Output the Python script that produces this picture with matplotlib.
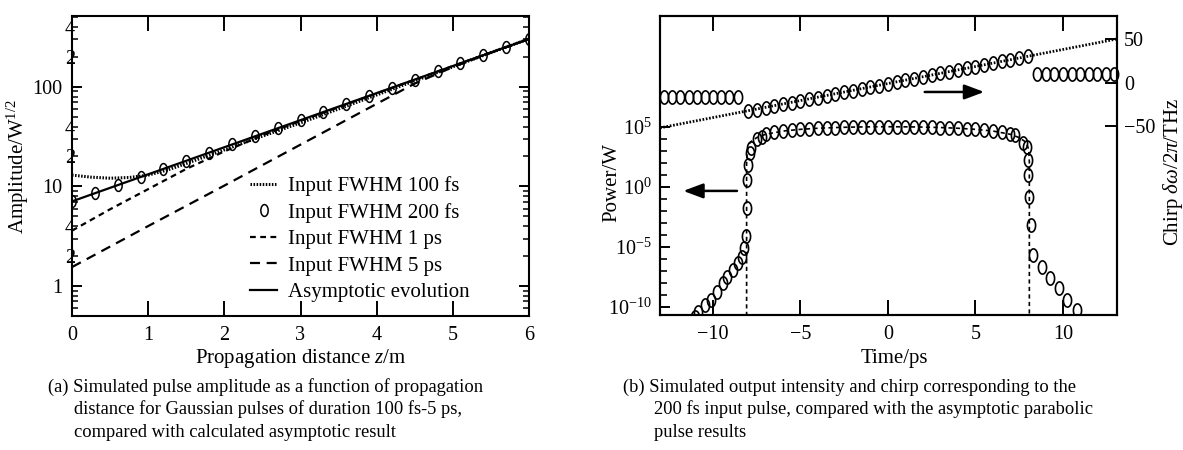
import numpy as np
import matplotlib
matplotlib.use("Agg")
import matplotlib.pyplot as plt
from matplotlib.path import Path
from matplotlib.ticker import FixedLocator, FuncFormatter, NullFormatter, NullLocator

plt.rcParams.update({
    "font.family": ["Liberation Serif", "DejaVu Serif"],
    "mathtext.fontset": "custom",
    "mathtext.rm": "Liberation Serif",
    "mathtext.it": "Liberation Serif:style=italic",
    "mathtext.bf": "Liberation Serif:weight=bold",
    "axes.unicode_minus": True,
})

# ---------------- data: panel (a) ----------------
z_100fs = [0.0, 0.25, 0.5, 0.75, 1.0, 1.25, 1.5, 2.0, 2.5, 3.0, 3.5, 4.0, 4.5, 5.0, 5.5, 6.0]
A_100fs = [13.0, 12.4, 12.1, 12.3, 13.0, 14.6, 17.0, 23.3, 32.0, 43.5, 60.0, 83.0, 115.0, 159.0, 221.0, 303.0]

z_200fs = [0.0, 0.3, 0.6, 0.9, 1.2, 1.5, 1.8, 2.1, 2.4, 2.7, 3.0, 3.3, 3.6, 3.9, 4.2, 4.5, 4.8, 5.1, 5.4, 5.7, 6.0]
A_200fs = [7.2, 8.5, 10.3, 12.4, 15.0, 18.1, 21.9, 26.4, 31.8, 38.4, 46.4, 55.9, 67.5, 81.4, 98.2, 118.6, 143.0, 173.0, 208.0, 251.0, 303.0]

z_1ps = [0.0, 0.5, 1.0, 1.5, 2.0, 2.5, 3.0, 3.5, 4.0, 4.5, 5.0, 5.5, 6.0]
A_1ps = [3.6, 5.9, 9.4, 15.0, 22.5, 32.5, 45.5, 62.5, 86.0, 118.0, 162.0, 222.0, 303.0]

z_5ps = [0.0, 1.0, 2.0, 3.0, 4.0, 4.5, 5.0, 5.5, 6.0]
A_5ps = [1.55, 4.0, 10.2, 26.3, 67.6, 108.0, 158.0, 220.0, 303.0]

z_asym = [0.0, 6.0]
A_asym = [7.08, 303.0]

legend_labels = ["Input FWHM 100 fs", "Input FWHM 200 fs", "Input FWHM 1 ps",
                 "Input FWHM 5 ps", "Asymptotic evolution"]

# ---------------- data: panel (b) ----------------
# simulated output power (circles)
t_power = [-11.03, -10.86, -10.46, -10.13, -9.79, -9.45, -9.2, -8.87, -8.57, -8.36, -8.23,
           -8.11, -8.07, -8.06, -8.0, -7.89, -7.85, -7.46, -7.22,
           -7.0, -6.5, -6.0, -5.5, -5.0, -4.5, -4.0, -3.5, -3.0, -2.5, -2.0, -1.5, -1.0, -0.5,
           0.0, 0.5, 1.0, 1.5, 2.0, 2.5, 3.0, 3.5, 4.0, 4.5, 5.0, 5.5, 6.0, 6.5, 7.0,
           7.26, 7.73, 7.93, 8.02, 8.02, 8.07, 8.15, 8.30, 8.78, 9.26, 9.79, 10.25, 10.78]
P_power = [1.5e-11, 4e-11, 1.5e-10, 3.8e-10, 1.9e-9, 1e-8, 3.2e-8, 1.2e-7, 4.7e-7, 1.5e-6, 8.3e-6,
           8.3e-5, 1.8e-2, 3.8, 68.0, 7.2e2, 1.8e3, 1.0e4, 1.55e4,
           2.45e4, 3.56e4, 4.58e4, 5.52e4, 6.38e4, 7.16e4, 7.85e4, 8.47e4, 8.99e4, 9.44e4, 9.82e4, 1.01e5, 1.03e5, 1.04e5,
           1.05e5, 1.04e5, 1.03e5, 1.01e5, 9.82e4, 9.44e4, 8.99e4, 8.47e4, 7.85e4, 7.16e4, 6.38e4, 5.52e4, 4.58e4, 3.56e4, 2.45e4,
           2.1e4, 4.4e3, 2.3e3, 1.8e2, 10.0, 0.15, 6.8e-4, 2.1e-6, 2.3e-7, 2.5e-8, 3.6e-9, 3.8e-10, 5.6e-11]

# asymptotic parabolic power (dashed)
t_par = [-8.08, -8.08, -8.05, -8.0, -7.9, -7.8, -7.5, -7.0, -6.0, -5.0, -4.0, -3.0, -2.0, -1.0, 0.0,
         1.0, 2.0, 3.0, 4.0, 5.0, 6.0, 7.0, 7.5, 7.8, 7.9, 8.0, 8.05, 8.08, 8.08]
P_par = [1e-12, 1.3e2, 7.8e2, 2.1e3, 4.6e3, 6.6e3, 1.3e4, 2.45e4, 4.58e4, 6.38e4, 7.85e4, 8.99e4, 9.82e4, 1.03e5, 1.05e5,
         1.03e5, 9.82e4, 8.99e4, 7.85e4, 6.38e4, 4.58e4, 2.45e4, 1.3e4, 6.6e3, 4.6e3, 2.1e3, 7.8e2, 1.3e2, 1e-12]

# simulated chirp (circles)
t_chirp = [-12.8, -12.33, -11.86, -11.40, -10.93, -10.46, -9.99, -9.53, -9.06, -8.59,
           -8.0, -7.5, -7.0, -6.5, -6.0, -5.5, -5.0, -4.5, -4.0, -3.5, -3.0, -2.5, -2.0, -1.5, -1.0, -0.5,
           0.0, 0.5, 1.0, 1.5, 2.0, 2.5, 3.0, 3.5, 4.0, 4.5, 5.0, 5.5, 6.0, 6.5, 7.0, 7.5, 8.0,
           8.53, 9.02, 9.51, 10.0, 10.49, 10.98, 11.47, 11.96, 12.45, 12.94]
chirp = [-16, -16, -16, -16, -16, -16, -16, -16, -16, -16,
         -32.6, -30.6, -28.7, -26.7, -24.7, -22.7, -20.8, -18.8, -16.8, -14.8, -12.9, -10.9, -8.9, -6.9, -5.0, -3.0,
         -1.0, 1.0, 3.0, 4.9, 6.9, 8.9, 10.9, 12.8, 14.8, 16.8, 18.8, 20.7, 22.7, 24.7, 26.7, 28.6, 30.6,
         10, 10, 10, 10, 10, 10, 10, 10, 10, 10]

# asymptotic chirp (dotted)
t_chirp_asym = [-13.03, 13.09]
chirp_asym = [-51.7, 50.6]

caption_a = ["(a) Simulated pulse amplitude as a function of propagation",
             "distance for Gaussian pulses of duration 100 fs-5 ps,",
             "compared with calculated asymptotic result"]
caption_b = ["(b) Simulated output intensity and chirp corresponding to the",
             "200 fs input pulse, compared with the asymptotic parabolic",
             "pulse results"]

# ---------------- figure ----------------
W, H = 1183, 450
fig = plt.figure(figsize=(W / 100, H / 100), dpi=100)
fig.patch.set_facecolor("white")

def px_axes(x0, y0, x1, y1):
    return fig.add_axes([x0 / W, 1 - y1 / H, (x1 - x0) / W, (y1 - y0) / H])

# ellipse marker (taller than wide)
th = np.linspace(0, 2 * np.pi, 73)
ellipse = Path(np.column_stack([0.62 * np.cos(th), np.sin(th)]), closed=True)

TICK_FS = 14.5
LAB_FS = 15
SPINE_W = 1.5

# ---------------- panel (a) ----------------
axL = px_axes(72, 16, 529, 316)
axL.set_yscale("log")
axL.set_xlim(0, 6)
axL.set_ylim(0.5, 515)

axL.plot(z_100fs, A_100fs, color="black", lw=2.2, ls=(0, (0.5, 0.5)), label=legend_labels[0])
axL.plot(z_200fs, A_200fs, ls="none", marker=ellipse, ms=8.5, mfc="none", mec="black", mew=1.1,
         label=legend_labels[1])
axL.plot(z_1ps, A_1ps, color="black", lw=1.6, ls=(0, (2.6, 2.0)), label=legend_labels[2])
axL.plot(z_5ps, A_5ps, color="black", lw=1.6, ls=(0, (4.5, 3.0)), label=legend_labels[3])
axL.plot(z_asym, A_asym, color="black", lw=1.6, label=legend_labels[4])

axL.xaxis.set_major_locator(FixedLocator([0, 1, 2, 3, 4, 5, 6]))
axL.yaxis.set_major_locator(FixedLocator([1, 10, 100]))
axL.yaxis.set_major_formatter(FuncFormatter(lambda v, p: "%d" % round(v)))
minor_vals = [m * 10 ** e for e in (-1, 0, 1, 2) for m in range(2, 10)]
axL.yaxis.set_minor_locator(FixedLocator(minor_vals))

def minor_fmt(v, p):
    mant = v / 10 ** np.floor(np.log10(v) + 1e-9)
    if abs(mant - 2) < 1e-6 and v > 1:
        return "2"
    if abs(mant - 4) < 1e-6 and v > 1:
        return "4"
    return ""

axL.yaxis.set_minor_formatter(FuncFormatter(minor_fmt))
axL.tick_params(axis="x", which="major", direction="in", top=True, length=11, width=1.4,
                labelsize=TICK_FS, pad=7)
axL.tick_params(axis="y", which="major", direction="in", right=True, length=7, width=1.4,
                labelsize=TICK_FS, pad=7)
axL.tick_params(axis="y", which="minor", direction="in", right=True, length=4, width=1.1,
                labelsize=TICK_FS, pad=-2)
for s in axL.spines.values():
    s.set_linewidth(SPINE_W)

leg = axL.legend(loc="upper left", bbox_to_anchor=((250 - 72) / 457, (316 - 176) / 300),
                 frameon=False, fontsize=LAB_FS, borderpad=0, borderaxespad=0,
                 handlelength=1.3, handletextpad=0.5, labelspacing=0.33)

fig.text(18 / W, 1 - 167 / H, "Amplitude/W$^{1/2}$", rotation=90, ha="center", va="center",
         fontsize=LAB_FS)
fig.text(301 / W, 1 - 363 / H, "Propagation distance $z$/m", ha="center", va="baseline",
         fontsize=LAB_FS)

# ---------------- panel (b) ----------------
axR = px_axes(660, 16, 1117, 315)
axR.set_yscale("log")
axR.set_xlim(-13.03, 13.09)
axR.set_ylim(10 ** -10.67, 10 ** 14.25)

axR.plot(t_par, P_par, color="black", lw=1.2, ls=(0, (2.5, 2.0)), zorder=2)
axR.plot(t_power, P_power, ls="none", marker=ellipse, ms=9.5, mfc="none", mec="black", mew=1.2,
         zorder=3)

axR.xaxis.set_major_locator(FixedLocator([-10, -5, 0, 5, 10]))
axR.yaxis.set_major_locator(FixedLocator([1e-10, 1e-5, 1e0, 1e5]))
axR.yaxis.set_major_formatter(FuncFormatter(lambda v, p: r"$10^{%d}$" % round(np.log10(v))))
axR.yaxis.set_minor_locator(FixedLocator([10.0 ** k for k in range(-10, 6) if k % 5]))
axR.yaxis.set_minor_formatter(NullFormatter())
axR.tick_params(axis="x", which="major", direction="in", top=True, length=11, width=1.4,
                labelsize=TICK_FS, pad=7)
axR.tick_params(axis="y", which="major", direction="in", right=False, length=7, width=1.4,
                labelsize=TICK_FS, pad=6)
axR.tick_params(axis="y", which="minor", direction="in", right=False, length=5, width=1.2)
for s in axR.spines.values():
    s.set_linewidth(SPINE_W)

ax2 = axR.twinx()
ax2.set_ylim(-267, 77)
ax2.plot(t_chirp_asym, chirp_asym, color="black", lw=2.0, ls=(0, (0.6, 0.6)), zorder=2)
ax2.plot(t_chirp, chirp, ls="none", marker=ellipse, ms=9.5, mfc="none", mec="black", mew=1.2,
         zorder=3, clip_on=False)
ax2.yaxis.set_major_locator(FixedLocator([-50, 0, 50]))
ax2.yaxis.set_minor_locator(NullLocator())
ax2.tick_params(axis="y", which="major", direction="in", length=8.5, width=1.4,
                labelsize=TICK_FS, pad=5)
for s in ax2.spines.values():
    s.set_linewidth(SPINE_W)

arrow_style = dict(arrowstyle="-|>,head_length=0.8,head_width=0.3", mutation_scale=15,
                   color="black", lw=1.8, shrinkA=0, shrinkB=0)
axR.annotate("", xy=(-11.7, 0.47), xytext=(-8.63, 0.47), arrowprops=arrow_style)
ax2.annotate("", xy=(5.5, -10.4), xytext=(2.1, -10.4), arrowprops=arrow_style)

fig.text(612 / W, 1 - 182 / H, "Power/W", rotation=90, ha="center", va="center", fontsize=LAB_FS)
fig.text(1173 / W, 1 - 172 / H, r"Chirp $\delta\omega/2\pi$/THz", rotation=90, ha="center",
         va="center", fontsize=LAB_FS)
fig.text(894 / W, 1 - 363 / H, "Time/ps", ha="center", va="baseline", fontsize=LAB_FS)

# ---------------- captions ----------------
CAP_FS = 13.3
base = [392, 414.5, 437]
fig.text(48 / W, 1 - base[0] / H, caption_a[0], ha="left", va="baseline", fontsize=CAP_FS)
fig.text(74 / W, 1 - base[1] / H, caption_a[1], ha="left", va="baseline", fontsize=CAP_FS)
fig.text(74 / W, 1 - base[2] / H, caption_a[2], ha="left", va="baseline", fontsize=CAP_FS)
fig.text(623 / W, 1 - base[0] / H, caption_b[0], ha="left", va="baseline", fontsize=CAP_FS)
fig.text(654 / W, 1 - base[1] / H, caption_b[1], ha="left", va="baseline", fontsize=CAP_FS)
fig.text(654 / W, 1 - base[2] / H, caption_b[2], ha="left", va="baseline", fontsize=CAP_FS)

fig.savefig("out.png", dpi=100, facecolor="white")
